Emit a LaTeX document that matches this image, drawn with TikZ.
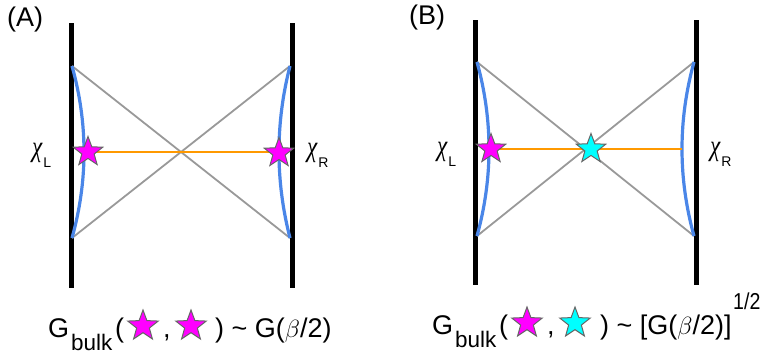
\documentclass[tikz,border=0pt]{standalone}
\usepackage{fontspec}
\setmainfont{Liberation Sans}
\newfontfamily\chifont{Liberation Serif}
\usetikzlibrary{shapes.geometric}
\definecolor{blueC}{HTML}{4A86E8}
\definecolor{orangeC}{HTML}{FF9900}
\definecolor{greyC}{HTML}{999999}
\definecolor{magC}{HTML}{FF00FF}
\definecolor{cyanC}{HTML}{00FFFF}
\definecolor{edgeC}{HTML}{666666}
\newcommand{\bigf}{\fontsize{27}{30}\selectfont}
\newcommand{\bulkf}{\fontsize{22.5}{26}\selectfont}
\newcommand{\expf}{\fontsize{23}{26}\selectfont}
\newcommand{\chif}{\chifont\itshape\fontsize{29}{32}\selectfont}
\newcommand{\subf}{\fontsize{14}{17}\selectfont}
\newcommand{\chilabel}[1]{\scalebox{0.8}[1]{\chif χ}\kern1pt\raisebox{-11pt}{\subf #1}}
\begin{document}
\begin{tikzpicture}[x=1pt,y=-1pt,
  wall/.style={line width=5pt, black},
  ray/.style={line width=1.8pt, greyC},
  hor/.style={line width=3.2pt, blueC},
  geod/.style={line width=2.6pt, orangeC},
  starnode/.style={star, star points=5, star point ratio=2.4, minimum size=31pt, inner sep=0pt, draw=edgeC, line width=1pt},
  smallstar/.style={starnode, minimum size=32pt},
  txt/.style={inner sep=0pt, font=\bigf},
  lab/.style={inner sep=0pt, anchor=base west}]
\useasboundingbox (0,0) rectangle (764,354);

% ---------- Panel A ----------
\node[txt, anchor=base west] (labA) at (7,26) {(A)};
\coordinate (AwLt) at (71,23); \coordinate (AwLb) at (71,288);
\coordinate (AwRt) at (292,23); \coordinate (AwRb) at (292,288);
\draw[wall] (AwLt) -- (AwLb);
\draw[wall] (AwRt) -- (AwRb);
\coordinate (ALT) at (72,66); \coordinate (ALB) at (72,238);
\coordinate (ART) at (290,66); \coordinate (ARB) at (290,238);
\draw[ray] (ALT) -- (ARB);
\draw[ray] (ALB) -- (ART);
\draw[hor] (ALT) .. controls (88,123.3) and (88,180.7) .. (ALB);
\draw[hor] (ART) .. controls (275.3,123.3) and (275.3,180.7) .. (ARB);
\coordinate (AsLc) at (88,152);
\coordinate (AsRc) at (279,153);
\draw[geod] (AsLc) -- (AsLc -| AsRc);
\node[starnode, fill=magC] (AsL) at (AsLc) {};
\node[starnode, fill=magC] (AsR) at (AsRc) {};
\node[lab] (AchiL) at (32,156) {\chilabel{L}};
\node[lab] (AchiR) at (307,156) {\chilabel{R}};
% caption A
\node[txt, anchor=base west] (AG) at (48,337) {G};
\node[anchor=base west, inner sep=0pt, font=\bulkf] (Abulk) at (71,350) {bulk};
\node[txt, anchor=base west] (Ap1) at (115,337) {(};
\node[smallstar, fill=magC] (Acs1) at (143,326) {};
\node[txt, anchor=base west] (Acm) at (163,337) {,};
\node[smallstar, fill=magC] (Acs2) at (191,326) {};
\node[txt, anchor=base west] (Arest) at (215,337) {) \textasciitilde{} G($\beta$/2)};

% ---------- Panel B ----------
\node[txt, anchor=base west] (labB) at (409,24) {(B)};
\coordinate (BwLt) at (475,20); \coordinate (BwLb) at (475,285);
\coordinate (BwRt) at (696,20); \coordinate (BwRb) at (696,285);
\draw[wall] (BwLt) -- (BwLb);
\draw[wall] (BwRt) -- (BwRb);
\coordinate (BLT) at (477,62); \coordinate (BLB) at (477,236);
\coordinate (BRT) at (694,62); \coordinate (BRB) at (694,236);
\draw[ray] (BLT) -- (BRB);
\draw[ray] (BLB) -- (BRT);
\draw[hor] (BLT) .. controls (493,120) and (493,178) .. (BLB);
\draw[hor] (BRT) .. controls (678,120) and (678,178) .. (BRB);
\coordinate (BhR) at (682,149);
\coordinate (BsLc) at (491,149);
\draw[geod] (BsLc) -- (BhR);
\node[starnode, fill=magC] (BsL) at (BsLc) {};
\node[starnode, fill=cyanC] (BsC) at (591,149) {};
\node[lab] (BchiL) at (437,155) {\chilabel{L}};
\node[lab] (BchiR) at (710,155) {\chilabel{R}};
% caption B
\node[txt, anchor=base west] (BG) at (432,334) {G};
\node[anchor=base west, inner sep=0pt, font=\bulkf] (Bbulk) at (455,347) {bulk};
\node[txt, anchor=base west] (Bp1) at (499,334) {(};
\node[smallstar, fill=magC] (Bcs1) at (527,323) {};
\node[txt, anchor=base west] (Bcm) at (547,334) {,};
\node[smallstar, fill=cyanC] (Bcs2) at (575,323) {};
\node[txt, anchor=base west] (Brest) at (600,334) {) \textasciitilde{} [G($\beta$/2)]};
\node[anchor=base west, inner sep=0pt] (Bexp) at (733,309) {\scalebox{0.85}[1]{\expf 1/2}};
\end{tikzpicture}
\end{document}
